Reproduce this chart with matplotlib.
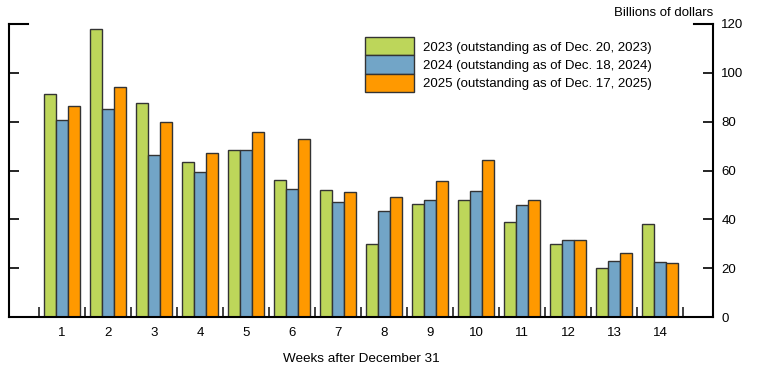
import numpy as np
import matplotlib
matplotlib.use("Agg")
import matplotlib.pyplot as plt
import matplotlib.transforms as mtransforms

plt.rcParams['font.family'] = ['Liberation Sans', 'DejaVu Sans']

# data (billions of dollars)
weeks = list(range(1, 15))
v2023 = [91.3, 118.0, 87.6, 63.5, 68.6, 56.1, 52.2, 30.1, 46.1, 48.1, 39.1, 29.9, 20.1, 38.0]
v2024 = [80.5, 85.0, 66.5, 59.2, 68.6, 52.4, 46.9, 43.6, 48.1, 51.6, 45.7, 31.5, 23.1, 22.6]
v2025 = [86.6, 94.0, 79.9, 67.2, 75.8, 72.9, 51.0, 49.1, 55.5, 64.1, 47.9, 31.5, 26.2, 22.0]
labels = ["2023 (outstanding as of Dec. 20, 2023)",
          "2024 (outstanding as of Dec. 18, 2024)",
          "2025 (outstanding as of Dec. 17, 2025)"]
colors = ["#bdd65a", "#72a5c7", "#ff9900"]

fig = plt.figure(figsize=(7.61, 3.81), dpi=100)
ax = fig.add_axes([9 / 761, 64 / 381, 704 / 761, 293 / 381])

x = np.array(weeks)
w = 0.26
for off, vals, c, lab in zip([-w, 0, w], [v2023, v2024, v2025], colors, labels):
    ax.bar(x + off, vals, width=w, color=c, edgecolor="#333333", linewidth=1.0, label=lab)

ax.set_xlim(-0.15, 15.15)
ax.set_ylim(0, 120)

# spines
ax.spines['top'].set_visible(False)
for s in ['left', 'right', 'bottom']:
    ax.spines[s].set_linewidth(1.5)
    ax.spines[s].set_color('black')

# x ticks: labels at centers, short separators between groups
ax.set_xticks(weeks)
ax.set_xticklabels([str(k) for k in weeks], fontsize=9.5)
ax.tick_params(axis='x', which='major', length=0, pad=7)
ax.set_xticks(np.arange(0.5, 15, 1.0), minor=True)
ax.tick_params(axis='x', which='minor', direction='in', length=7, width=1.2, color='#222222')

# y ticks on both sides, labels only on right
ax.set_yticks(range(0, 121, 20))
ax.tick_params(axis='y', which='major', direction='in', length=7, width=1.2,
               left=True, right=True, labelleft=False, labelright=True,
               labelsize=9.5, pad=6)

# longer ticks at the top
trans = mtransforms.blended_transform_factory(ax.transAxes, ax.transData)
ax.plot([0, 0.027], [120, 120], color='black', lw=1.5, transform=trans, clip_on=False)
ax.plot([0.973, 1], [120, 120], color='black', lw=1.5, transform=trans, clip_on=False)

ax.text(1.0, 1.018, "Billions of dollars", transform=ax.transAxes, ha='right', va='bottom', fontsize=9.5)
ax.set_xlabel("Weeks after December 31", fontsize=9.7, labelpad=10)

ax.legend(loc='upper left', bbox_to_anchor=(0.506, 0.955), frameon=False, fontsize=9.5,
          handlelength=3.7, handleheight=1.75, labelspacing=0.0, handletextpad=0.7,
          borderpad=0, borderaxespad=0)

fig.savefig("out.png", dpi=100)
